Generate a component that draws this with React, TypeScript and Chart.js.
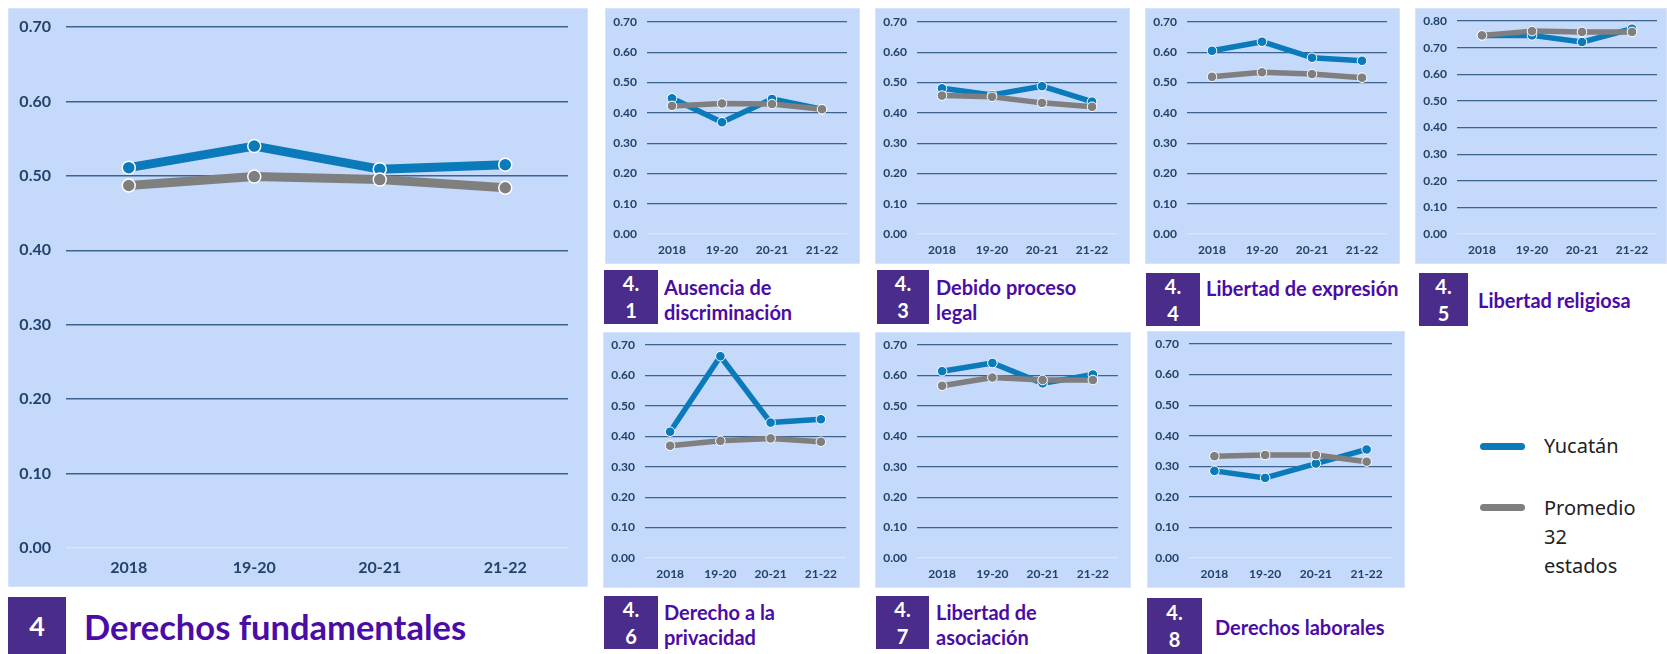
import React, { useEffect, useRef } from "react";
import { Chart, registerables } from "chart.js";

Chart.register(...registerables);

// ---------- DATA ----------
const categories = ["2018", "19-20", "20-21", "21-22"];
const seriesNames = ["Yucatán", "Promedio 32 estados"];

const yucatanFundamentales = [0.511, 0.54, 0.509, 0.515];
const promedioFundamentales = [0.487, 0.499, 0.495, 0.484];

const yucatanDiscriminacion = [0.448, 0.369, 0.446, 0.412];
const promedioDiscriminacion = [0.423, 0.431, 0.429, 0.412];

const yucatanDebidoProceso = [0.481, 0.459, 0.488, 0.437];
const promedioDebidoProceso = [0.457, 0.453, 0.433, 0.42];

const yucatanExpresion = [0.605, 0.635, 0.582, 0.572];
const promedioExpresion = [0.519, 0.534, 0.528, 0.516];

const yucatanReligiosa = [0.746, 0.746, 0.721, 0.771];
const promedioReligiosa = [0.746, 0.762, 0.759, 0.759];

const yucatanPrivacidad = [0.415, 0.663, 0.445, 0.456];
const promedioPrivacidad = [0.369, 0.385, 0.393, 0.382];

const yucatanAsociacion = [0.614, 0.641, 0.574, 0.603];
const promedioAsociacion = [0.566, 0.593, 0.585, 0.585];

const yucatanLaborales = [0.285, 0.262, 0.309, 0.355];
const promedioLaborales = [0.333, 0.337, 0.337, 0.315];

const yMaxDefault = 0.7;
const yMaxReligiosa = 0.8;
const yStep = 0.1;

// ---------- STYLE ----------
const BLUE = "#0a7abb";
const GREY = "#7f7f7f";
const PANEL_BG = "#c5d9fb";
const GRID = "#3a638f";
const GRID_ZERO = "#dbe6f8";
const TICK = "#22426a";
const PURPLE_TEXT = "#4b0ca6";
const PURPLE_BOX = "#4a2d8a";

const BIG = { padTop: 19, padRight: 20, yW: 58, xH: 39, font: 16, lw: 9, r: 6.5, bw: 1.5, yPad: 15, xPad: 10, gw: 1.5 };
const SMALL = { padTop: 14, padRight: 13, yW: 42, xH: 30, font: 12, lw: 5.5, r: 4.8, bw: 1, yPad: 10, xPad: 9, gw: 1.2 };

type PanelProps = {
  left: number;
  top: number;
  width: number;
  height: number;
  yMax: number;
  yucatan: number[];
  promedio: number[];
  big?: boolean;
  padRight?: number;
  padTop?: number;
};

function Panel(p: PanelProps) {
  const ref = useRef<HTMLCanvasElement>(null);
  useEffect(() => {
    const s = p.big ? BIG : SMALL;
    const font = { family: "Lato", weight: 700, size: s.font };
    const chart = new Chart(ref.current!, {
      type: "line",
      data: {
        labels: categories,
        datasets: [
          {
            label: seriesNames[0],
            data: p.yucatan,
            borderColor: BLUE,
            backgroundColor: BLUE,
            pointBackgroundColor: BLUE,
            pointBorderColor: "#ffffff",
            pointBorderWidth: s.bw,
            pointRadius: s.r,
            borderWidth: s.lw,
            borderJoinStyle: "round",
            tension: 0,
            order: 1,
          },
          {
            label: seriesNames[1],
            data: p.promedio,
            borderColor: GREY,
            backgroundColor: GREY,
            pointBackgroundColor: GREY,
            pointBorderColor: "#ffffff",
            pointBorderWidth: s.bw,
            pointRadius: s.r,
            borderWidth: s.lw,
            borderJoinStyle: "round",
            tension: 0,
            order: 0,
          },
        ],
      },
      options: {
        responsive: false,
        maintainAspectRatio: false,
        animation: false,
        devicePixelRatio: 1,
        layout: {
          autoPadding: false,
          padding: { top: p.padTop ?? s.padTop, right: p.padRight ?? s.padRight, left: 0, bottom: 0 },
        },
        plugins: { legend: { display: false }, tooltip: { enabled: false } },
        scales: {
          x: {
            offset: true,
            grid: { display: false, drawTicks: false },
            border: { display: false },
            ticks: { color: TICK, font, padding: s.xPad, maxRotation: 0, autoSkip: false },
            afterFit: (sc: any) => {
              sc.height = s.xH;
              sc.paddingLeft = 0;
              sc.paddingRight = 0;
            },
          },
          y: {
            min: 0,
            max: p.yMax,
            grid: {
              color: (ctx: any) => (ctx.tick && Math.abs(ctx.tick.value) < 1e-9 ? GRID_ZERO : GRID),
              lineWidth: s.gw,
              drawTicks: false,
            },
            border: { display: false },
            ticks: {
              stepSize: yStep,
              color: TICK,
              font,
              padding: s.yPad,
              callback: (v: any) => Number(v).toFixed(2),
            },
            afterFit: (sc: any) => {
              sc.width = s.yW;
              sc.paddingTop = 0;
              sc.paddingBottom = 0;
            },
          },
        },
      } as any,
    });
    let alive = true;
    (document as any).fonts?.ready.then(() => {
      if (alive) chart.update();
    });
    return () => {
      alive = false;
      chart.destroy();
    };
  }, []);
  return (
    <div
      style={{
        position: "absolute",
        left: p.left,
        top: p.top,
        width: p.width,
        height: p.height,
        background: PANEL_BG,
        boxShadow: "inset 0 0 0 1px #d6e4fb",
      }}
    >
      <canvas ref={ref} width={p.width} height={p.height} style={{ display: "block" }} />
    </div>
  );
}

type TitleProps = {
  boxLeft: number;
  boxTop: number;
  boxW: number;
  boxH: number;
  num: string[];
  textLeft: number;
  firstLineCenter: number;
  lines: string[];
};

function SmallTitle(t: TitleProps) {
  return (
    <>
      <div
        style={{
          position: "absolute",
          left: t.boxLeft,
          top: t.boxTop,
          width: t.boxW,
          height: t.boxH,
          background: PURPLE_BOX,
          color: "#fff",
          fontFamily: "Lato",
          fontWeight: 700,
          fontSize: 20,
          lineHeight: "27px",
          display: "flex",
          flexDirection: "column",
          alignItems: "center",
          justifyContent: "center",
        }}
      >
        {t.num.map((n, i) => (
          <div key={i}>{n}</div>
        ))}
      </div>
      <div
        style={{
          position: "absolute",
          left: t.textLeft,
          top: t.firstLineCenter - 12.5,
          color: PURPLE_TEXT,
          fontFamily: "Lato",
          fontWeight: 700,
          fontSize: 20,
          lineHeight: "25px",
          whiteSpace: "nowrap",
        }}
      >
        {t.lines.map((l, i) => (
          <div key={i}>{l}</div>
        ))}
      </div>
    </>
  );
}

export default function App() {
  return (
    <div
      style={{
        position: "absolute",
        left: 0,
        top: 0,
        width: 1667,
        height: 654,
        overflow: "hidden",
        background: "#ffffff",
      }}
    >
      <Panel left={8} top={8} width={580} height={579} yMax={yMaxDefault} yucatan={yucatanFundamentales} promedio={promedioFundamentales} big />
      <Panel left={605} top={8} width={255} height={256} yMax={yMaxDefault} yucatan={yucatanDiscriminacion} promedio={promedioDiscriminacion} />
      <Panel left={875} top={8} width={255} height={256} yMax={yMaxDefault} yucatan={yucatanDebidoProceso} promedio={promedioDebidoProceso} />
      <Panel left={1145} top={8} width={255} height={256} yMax={yMaxDefault} yucatan={yucatanExpresion} promedio={promedioExpresion} />
      <Panel left={1415} top={8} width={252} height={256} yMax={yMaxReligiosa} yucatan={yucatanReligiosa} promedio={promedioReligiosa} padRight={10} padTop={13} />
      <Panel left={603} top={332} width={257} height={256} yMax={yMaxDefault} yucatan={yucatanPrivacidad} promedio={promedioPrivacidad} padRight={14} padTop={13} />
      <Panel left={875} top={332} width={256} height={256} yMax={yMaxDefault} yucatan={yucatanAsociacion} promedio={promedioAsociacion} padTop={13} />
      <Panel left={1147} top={331} width={258} height={257} yMax={yMaxDefault} yucatan={yucatanLaborales} promedio={promedioLaborales} padTop={13} />

      {/* Main title */}
      <div
        style={{
          position: "absolute",
          left: 8,
          top: 597,
          width: 58,
          height: 57,
          background: PURPLE_BOX,
          color: "#fff",
          fontFamily: "Lato",
          fontWeight: 700,
          fontSize: 27,
          display: "flex",
          alignItems: "center",
          justifyContent: "center",
        }}
      >
        4
      </div>
      <div
        style={{
          position: "absolute",
          left: 84,
          top: 606,
          color: PURPLE_TEXT,
          fontFamily: "Lato",
          fontWeight: 700,
          fontSize: 34.5,
          lineHeight: "42px",
          whiteSpace: "nowrap",
        }}
      >
        Derechos fundamentales
      </div>

      <SmallTitle boxLeft={604} boxTop={270} boxW={54} boxH={54} num={["4.", "1"]} textLeft={664} firstLineCenter={287} lines={["Ausencia de", "discriminación"]} />
      <SmallTitle boxLeft={877} boxTop={270} boxW={52} boxH={54} num={["4.", "3"]} textLeft={936} firstLineCenter={287} lines={["Debido proceso", "legal"]} />
      <SmallTitle boxLeft={1146} boxTop={273} boxW={54} boxH={53} num={["4.", "4"]} textLeft={1206} firstLineCenter={288} lines={["Libertad de expresión"]} />
      <SmallTitle boxLeft={1419} boxTop={273} boxW={49} boxH={53} num={["4.", "5"]} textLeft={1478} firstLineCenter={300} lines={["Libertad religiosa"]} />
      <SmallTitle boxLeft={604} boxTop={596} boxW={54} boxH={53} num={["4.", "6"]} textLeft={664} firstLineCenter={612} lines={["Derecho a la", "privacidad"]} />
      <SmallTitle boxLeft={876} boxTop={596} boxW={53} boxH={53} num={["4.", "7"]} textLeft={936} firstLineCenter={612} lines={["Libertad de", "asociación"]} />
      <SmallTitle boxLeft={1147} boxTop={598} boxW={55} boxH={56} num={["4.", "8"]} textLeft={1215} firstLineCenter={627} lines={["Derechos laborales"]} />

      {/* Legend */}
      <div style={{ position: "absolute", left: 1480, top: 442.5, width: 45, height: 7, borderRadius: 4, background: BLUE }} />
      <div
        style={{
          position: "absolute",
          left: 1544,
          top: 431,
          fontFamily: "Noto Sans",
          fontSize: 20,
          lineHeight: "30px",
          color: "#222",
          whiteSpace: "nowrap",
        }}
      >
        {seriesNames[0]}
      </div>
      <div style={{ position: "absolute", left: 1480, top: 503.5, width: 45, height: 7, borderRadius: 4, background: GREY }} />
      <div
        style={{
          position: "absolute",
          left: 1544,
          top: 493,
          fontFamily: "Noto Sans",
          fontSize: 20,
          lineHeight: "29px",
          color: "#222",
          width: 110,
        }}
      >
        <div>Promedio</div>
        <div>32</div>
        <div>estados</div>
      </div>
    </div>
  );
}
